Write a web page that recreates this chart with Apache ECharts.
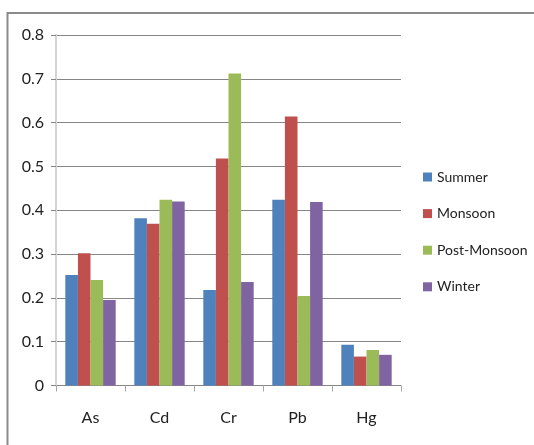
<!DOCTYPE html>
<html>
<head>
<meta charset="utf-8">
<script src="https://cdn.jsdelivr.net/npm/echarts@6/dist/echarts.min.js"></script>
<style>
  html, body { margin: 0; padding: 0; background: #fff; }
  #chart { width: 534px; height: 445px; }
</style>
</head>
<body>
<div id="chart"></div>
<script>
// Heavy metal concentrations by season
const metals = ['As', 'Cd', 'Cr', 'Pb', 'Hg'];
const seasons = ['Summer', 'Monsoon', 'Post-Monsoon', 'Winter'];
const summer      = [0.252, 0.382, 0.218, 0.424, 0.093];
const monsoon     = [0.302, 0.369, 0.518, 0.614, 0.066];
const postMonsoon = [0.241, 0.424, 0.712, 0.204, 0.081];
const winter      = [0.195, 0.420, 0.236, 0.419, 0.070];
const yTicks = [0, 0.1, 0.2, 0.3, 0.4, 0.5, 0.6, 0.7, 0.8];

const seriesValues = [summer, monsoon, postMonsoon, winter];
const colors = ['#4F81BD', '#C0504D', '#9BBB59', '#8064A2'];
const FONT = 'Lato, "Open Sans", sans-serif';

const chart = echarts.init(document.getElementById('chart'), null, { renderer: 'canvas' });

chart.setOption({
  animation: false,
  backgroundColor: '#ffffff',
  color: colors,
  grid: { left: 56, right: 133, top: 35, bottom: 59.5, containLabel: false },
  legend: {
    orient: 'vertical',
    left: 418,
    top: 164,
    itemWidth: 9,
    itemHeight: 9,
    itemGap: 20.6,
    icon: 'rect',
    textStyle: { fontFamily: FONT, fontSize: 14, lineHeight: 16, color: '#222' },
    data: seasons
  },
  xAxis: {
    type: 'category',
    data: metals,
    axisLine: { show: false },
    axisTick: { show: true, length: 6, lineStyle: { color: '#a6a6a6', width: 1 } },
    axisLabel: { margin: 24, fontFamily: FONT, fontSize: 16, color: '#222' },
    splitLine: { show: false }
  },
  yAxis: {
    type: 'value',
    min: yTicks[0],
    max: yTicks[yTicks.length - 1],
    interval: 0.1,
    axisLine: { show: true, lineStyle: { color: '#d4d4d4', width: 2 } },
    axisTick: { show: true, length: 5, lineStyle: { color: '#868686', width: 1 } },
    axisLabel: {
      margin: 12,
      fontFamily: FONT,
      fontSize: 16,
      color: '#222',
      formatter: v => (Math.round(v * 10) / 10).toString()
    },
    splitLine: { show: true, lineStyle: { color: '#868686', width: 1 } }
  },
  series: seasons.map((name, i) => ({
    name,
    type: 'bar',
    data: seriesValues[i],
    barGap: '0%',
    barCategoryGap: '27%',
    itemStyle: { color: colors[i] }
  })),
  graphic: [
    {
      type: 'polyline',
      silent: true,
      shape: { points: [[7.5, 445], [7.5, 13], [534, 13]] },
      style: { stroke: '#8a8a8a', lineWidth: 2, fill: null }
    }
  ]
});
</script>
</body>
</html>
